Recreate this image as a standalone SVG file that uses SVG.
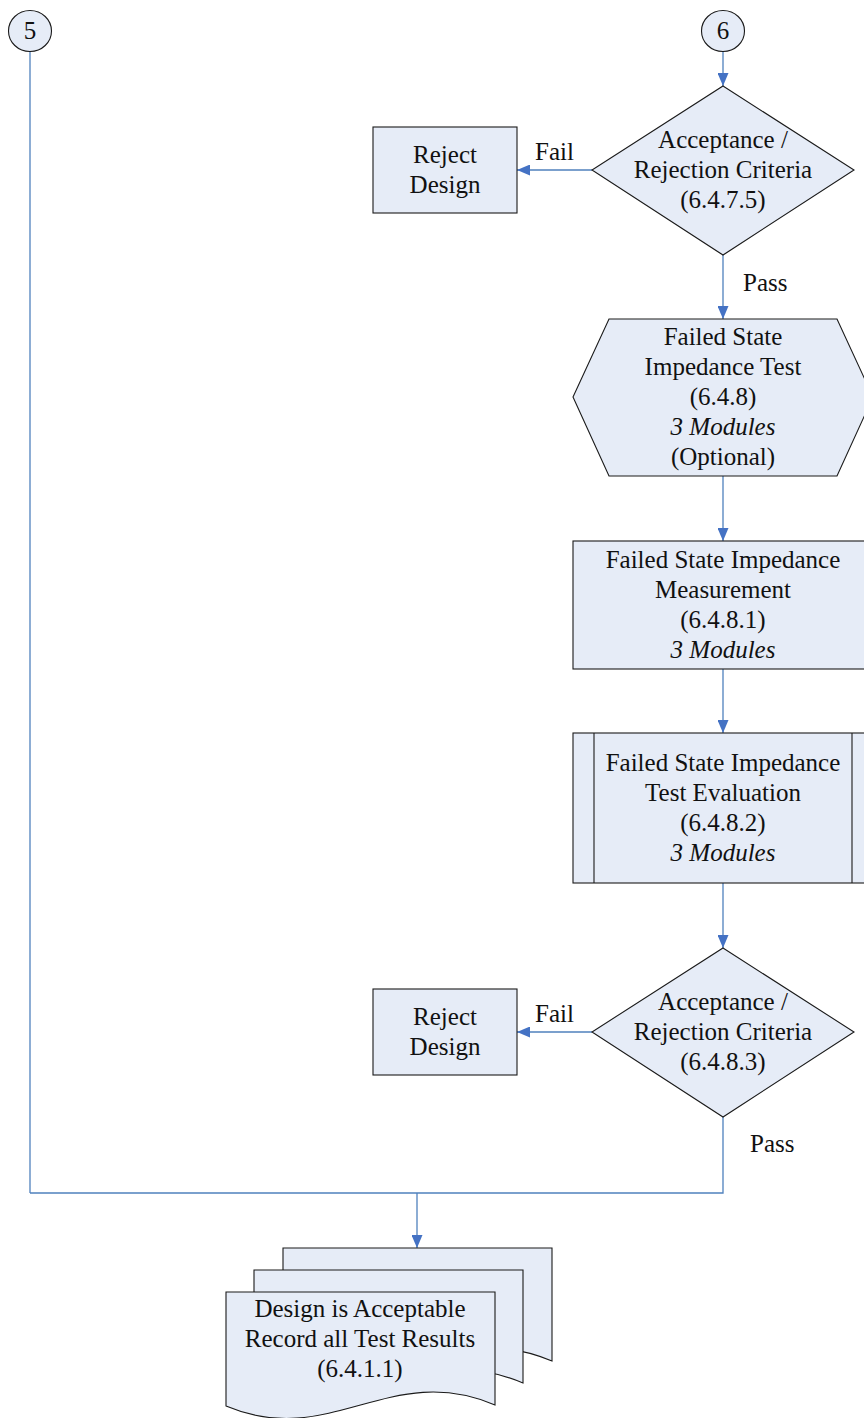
<svg xmlns="http://www.w3.org/2000/svg" width="864" height="1418" viewBox="0 0 864 1418">
<style>
.n{fill:#E6ECF7;stroke:#1a1a1a;stroke-width:1.1}
.t{font-family:"Liberation Serif","Times New Roman",serif;font-size:25px;fill:#111;text-anchor:middle}
.l{font-family:"Liberation Serif","Times New Roman",serif;font-size:25px;fill:#111}
.i{font-style:italic}
.c{fill:none;stroke:#4F81BD;stroke-width:1.3}
</style>
<defs>
<marker id="ah" viewBox="0 0 13 11" refX="13" refY="5.5" markerWidth="13" markerHeight="11" markerUnits="userSpaceOnUse" orient="auto">
<path d="M0,0 L13,5.5 L0,11 Z" fill="#4472C4"/>
</marker>
<path id="doc" d="M0,0 H269 V113 C164,68 104,158 0,114 Z"/>
</defs>
<g id="connectors">
<path class="c" d="M723,51 V86" marker-end="url(#ah)"/>
<path class="c" d="M592,170 H517" marker-end="url(#ah)"/>
<path class="c" d="M723,255 V319" marker-end="url(#ah)"/>
<path class="c" d="M723,476 V541" marker-end="url(#ah)"/>
<path class="c" d="M723,669 V733" marker-end="url(#ah)"/>
<path class="c" d="M723,883 V948" marker-end="url(#ah)"/>
<path class="c" d="M592,1032 H517" marker-end="url(#ah)"/>
<path class="c" d="M723,1117 V1193 H30"/>
<path class="c" d="M30,51 V1193"/>
<path class="c" d="M417,1193 V1248" marker-end="url(#ah)"/>
<text class="l" x="535" y="160">Fail</text>
<text class="l" x="743" y="291">Pass</text>
<text class="l" x="535" y="1022">Fail</text>
<text class="l" x="750" y="1152">Pass</text>
</g>
<g id="c5">
<ellipse class="n" cx="30" cy="31" rx="21.5" ry="20.5"/>
<text class="t" x="30" y="39">5</text>
</g>
<g id="c6">
<ellipse class="n" cx="723" cy="31" rx="21.5" ry="20.5"/>
<text class="t" x="723" y="39">6</text>
</g>
<g id="d1">
<polygon class="n" points="723,86 854,170 723,255 592,170"/>
<text class="t" x="723" y="148">Acceptance /</text>
<text class="t" x="723" y="178">Rejection Criteria</text>
<text class="t" x="723" y="208">(6.4.7.5)</text>
</g>
<g id="reject1">
<rect class="n" x="373" y="127" width="144" height="86"/>
<text class="t" x="445" y="163">Reject</text>
<text class="t" x="445" y="193">Design</text>
</g>
<g id="hex">
<polygon class="n" points="609,319 837,319 873,397 837,476 609,476 573,397"/>
<text class="t" x="723" y="345">Failed State</text>
<text class="t" x="723" y="375">Impedance Test</text>
<text class="t" x="723" y="405">(6.4.8)</text>
<text class="t i" x="723" y="435">3 Modules</text>
<text class="t" x="723" y="465">(Optional)</text>
</g>
<g id="meas">
<rect class="n" x="573" y="541" width="300" height="128"/>
<text class="t" x="723" y="568">Failed State Impedance</text>
<text class="t" x="723" y="598">Measurement</text>
<text class="t" x="723" y="628">(6.4.8.1)</text>
<text class="t i" x="723" y="658">3 Modules</text>
</g>
<g id="eval">
<rect class="n" x="573" y="733" width="300" height="150"/>
<line x1="594" y1="733" x2="594" y2="883" stroke="#1a1a1a" stroke-width="1.1"/>
<line x1="852" y1="733" x2="852" y2="883" stroke="#1a1a1a" stroke-width="1.1"/>
<text class="t" x="723" y="771">Failed State Impedance</text>
<text class="t" x="723" y="801">Test Evaluation</text>
<text class="t" x="723" y="831">(6.4.8.2)</text>
<text class="t i" x="723" y="861">3 Modules</text>
</g>
<g id="d2">
<polygon class="n" points="723,948 854,1032 723,1117 592,1032"/>
<text class="t" x="723" y="1010">Acceptance /</text>
<text class="t" x="723" y="1040">Rejection Criteria</text>
<text class="t" x="723" y="1070">(6.4.8.3)</text>
</g>
<g id="reject2">
<rect class="n" x="373" y="989" width="144" height="86"/>
<text class="t" x="445" y="1025">Reject</text>
<text class="t" x="445" y="1055">Design</text>
</g>
<g id="docs">
<use href="#doc" class="n" transform="translate(283,1248)"/>
<use href="#doc" class="n" transform="translate(254,1270)"/>
<use href="#doc" class="n" transform="translate(226,1292)"/>
<text class="t" x="360" y="1317">Design is Acceptable</text>
<text class="t" x="360" y="1347">Record all Test Results</text>
<text class="t" x="360" y="1377">(6.4.1.1)</text>
</g>
</svg>
